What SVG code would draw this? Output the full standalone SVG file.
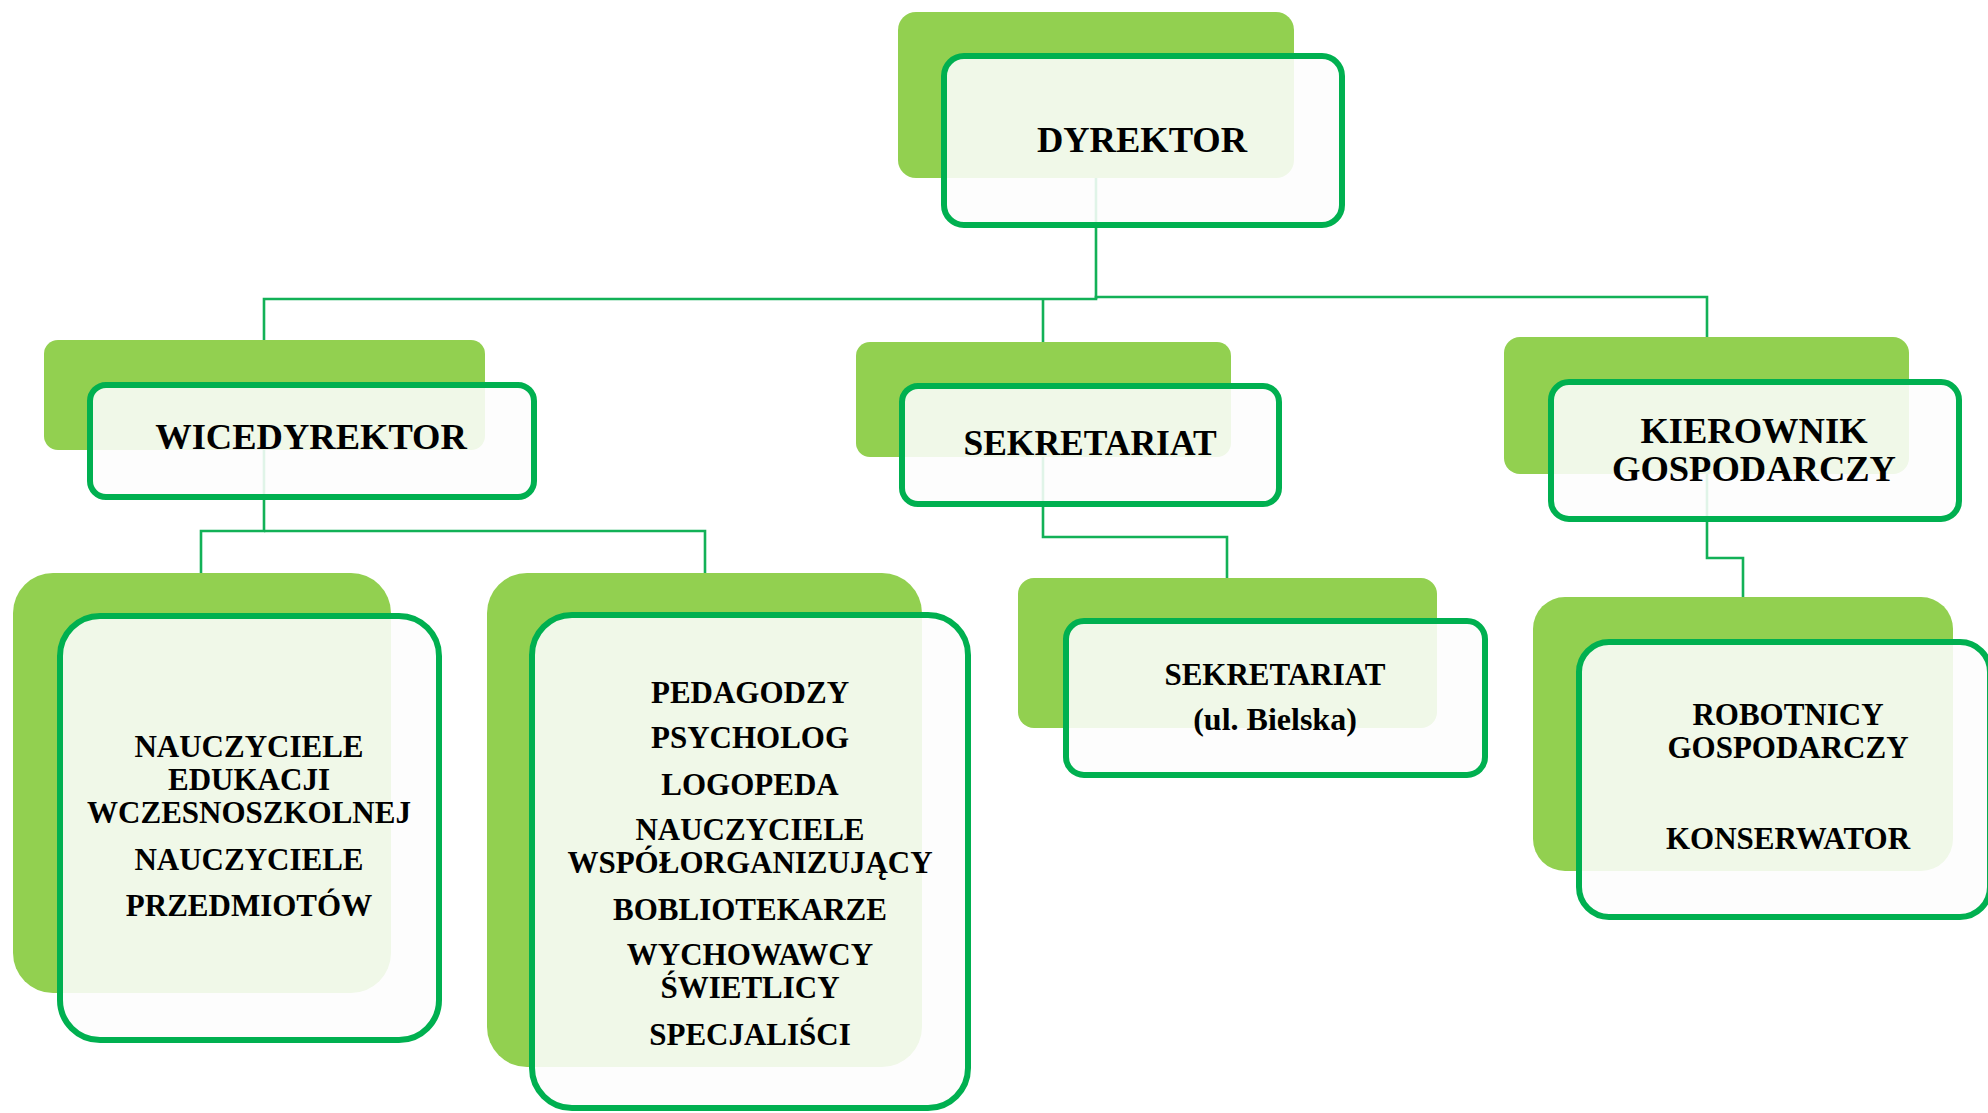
<svg xmlns="http://www.w3.org/2000/svg" width="1988" height="1113" viewBox="0 0 1988 1113">
  <style>
    .back { fill: #92d050; }
    .front { fill: #fdfdfd; fill-opacity: 0.88; stroke: #00b050; stroke-width: 6; }
    .conn { fill: none; stroke: #12b157; stroke-width: 2.6; }
    text { font-family: "Liberation Serif", "Times New Roman", serif; font-weight: bold; fill: #000; text-anchor: middle; }
    .t36 { font-size: 36.5px; }
    .t32 { font-size: 32px; }
    .t31 { font-size: 31px; }
  </style>
  <rect width="1988" height="1113" fill="#ffffff"/>

  <g id="connectors">
    <path class="conn" d="M1096 178 V299 H264 V340"/>
    <path class="conn" d="M1096 299 V297 H1707 V337"/>
    <path class="conn" d="M1043 299 V342"/>
    <path class="conn" d="M264 450 V531 H201 V573"/>
    <path class="conn" d="M264 531 H705 V573"/>
    <path class="conn" d="M1043 457 V537 H1227 V578"/>
    <path class="conn" d="M1707 474 V558 H1743 V597"/>
  </g>

  <g id="dyrektor">
    <rect class="back" x="898" y="12" width="396" height="166" rx="18"/>
    <rect class="front" x="944" y="56" width="398" height="169" rx="20"/>
    <text class="t36" x="1142" y="152">DYREKTOR</text>
  </g>

  <g id="wicedyrektor">
    <rect class="back" x="44" y="340" width="441" height="110" rx="14"/>
    <rect class="front" x="90" y="385" width="444" height="112" rx="16"/>
    <text class="t36" x="311" y="449">WICEDYREKTOR</text>
  </g>

  <g id="sekretariat">
    <rect class="back" x="856" y="342" width="375" height="115" rx="14"/>
    <rect class="front" x="902" y="386" width="377" height="118" rx="16"/>
    <text class="t36" x="1090" y="455" style="font-size:35.5px">SEKRETARIAT</text>
  </g>

  <g id="kierownik">
    <rect class="back" x="1504" y="337" width="405" height="137" rx="16"/>
    <rect class="front" x="1551" y="382" width="408" height="137" rx="18"/>
    <text class="t36" x="1754" y="443">KIEROWNIK</text>
    <text class="t36" x="1754" y="481">GOSPODARCZY</text>
  </g>

  <g id="nauczyciele">
    <rect class="back" x="13" y="573" width="378" height="420" rx="40"/>
    <rect class="front" x="60" y="616" width="379" height="424" rx="40"/>
    <text class="t31" x="249" y="757">NAUCZYCIELE</text>
    <text class="t31" x="249" y="790">EDUKACJI</text>
    <text class="t31" x="249" y="823">WCZESNOSZKOLNEJ</text>
    <text class="t31" x="249" y="870">NAUCZYCIELE</text>
    <text class="t31" x="249" y="916">PRZEDMIOTÓW</text>
  </g>

  <g id="pedagodzy">
    <rect class="back" x="487" y="573" width="435" height="494" rx="40"/>
    <rect class="front" x="532" y="615" width="436" height="493" rx="40"/>
    <text class="t31" x="750" y="703">PEDAGODZY</text>
    <text class="t31" x="750" y="748">PSYCHOLOG</text>
    <text class="t31" x="750" y="795">LOGOPEDA</text>
    <text class="t31" x="750" y="840">NAUCZYCIELE</text>
    <text class="t31" x="750" y="873">WSPÓŁORGANIZUJĄCY</text>
    <text class="t31" x="750" y="920">BOBLIOTEKARZE</text>
    <text class="t31" x="750" y="965">WYCHOWAWCY</text>
    <text class="t31" x="750" y="998">ŚWIETLICY</text>
    <text class="t31" x="750" y="1045">SPECJALIŚCI</text>
  </g>

  <g id="sekretariat-bielska">
    <rect class="back" x="1018" y="578" width="419" height="150" rx="16"/>
    <rect class="front" x="1066" y="621" width="419" height="154" rx="18"/>
    <text class="t32" x="1275" y="685" style="font-size:31px">SEKRETARIAT</text>
    <text class="t32" x="1275" y="730">(ul. Bielska)</text>
  </g>

  <g id="robotnicy">
    <rect class="back" x="1533" y="597" width="420" height="274" rx="32"/>
    <rect class="front" x="1579" y="642" width="411" height="275" rx="30"/>
    <text class="t31" x="1788" y="725">ROBOTNICY</text>
    <text class="t31" x="1788" y="758">GOSPODARCZY</text>
    <text class="t31" x="1788" y="849">KONSERWATOR</text>
  </g>
</svg>
